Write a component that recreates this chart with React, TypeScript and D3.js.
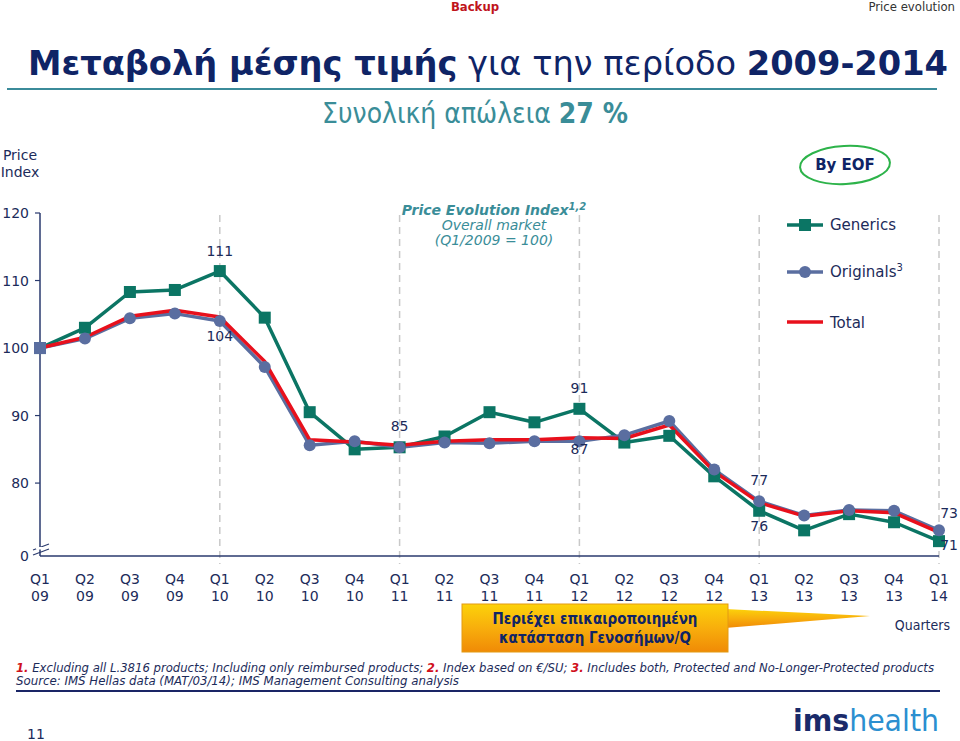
import React, { useRef, useEffect } from 'react';
import * as d3 from 'd3';

const quarters = ["Q1", "Q2", "Q3", "Q4", "Q1", "Q2", "Q3", "Q4", "Q1", "Q2", "Q3", "Q4", "Q1", "Q2", "Q3", "Q4", "Q1", "Q2", "Q3", "Q4", "Q1"];
const years = ["09", "09", "09", "09", "10", "10", "10", "10", "11", "11", "11", "11", "12", "12", "12", "12", "13", "13", "13", "13", "14"];

const generics = [100, 103.0, 108.3, 108.6, 111.4, 104.5, 90.5, 85.0, 85.3, 86.9, 90.5, 89.0, 91.0, 86.0, 87.0, 81.0, 75.9, 73.0, 75.4, 74.2, 71.4];
const originals = [100, 101.4, 104.4, 105.1, 104.0, 97.2, 85.6, 86.2, 85.3, 86.0, 85.9, 86.2, 86.2, 87.1, 89.2, 82.0, 77.3, 75.2, 76.0, 75.9, 73.0];
const total = [100, 101.6, 104.7, 105.6, 104.6, 98.0, 86.4, 86.1, 85.6, 86.2, 86.4, 86.4, 86.7, 86.6, 88.6, 81.7, 77.1, 75.1, 75.9, 75.6, 72.7];

const yTicks = [80, 90, 100, 110, 120];
// value labels: [index, text, dy from the generics point]
const valueLabels: [number, string, number][] = [
  [4, "111", -15], [4, "104", 70], [8, "85", -16], [12, "91", -16], [12, "87", 45],
  [16, "77", -26], [16, "76", 20], [20, "73", -23], [20, "71", 9]
];

const GREEN = "#0b7564";
const BLUE = "#5a6ea0";
const RED = "#e8101c";
const NAVY = "#0f2466";
const TEXT = "#1c2b5a";
const FONT = "'DejaVu Sans', Verdana, sans-serif";
const COND = "'DejaVu Sans Condensed', sans-serif";

export default function App() {
  const svgRef = useRef<SVGSVGElement>(null);

  useEffect(() => {
    const svg = d3.select(svgRef.current);
    svg.selectAll("*").remove();

    const x = d3.scaleLinear().domain([0, quarters.length - 1]).range([40, 939]);
    const y = d3.scaleLinear().domain([69.2, 120]).range([556, 213]);
    const baseY = 556;

    const g = svg.append("g");

    // Q1 dashed guides
    quarters.forEach((q, i) => {
      if (q === "Q1" && i > 0) {
        g.append("line")
          .attr("x1", x(i)).attr("x2", x(i))
          .attr("y1", 215).attr("y2", baseY + 8)
          .attr("stroke", "#c9c9c9").attr("stroke-width", 1.5)
          .attr("stroke-dasharray", "7,5");
      }
    });

    // axes
    g.append("line").attr("x1", 40).attr("x2", 40).attr("y1", y(120)).attr("y2", baseY)
      .attr("stroke", "#2a3a6e").attr("stroke-width", 1.5);
    g.append("line").attr("x1", 40).attr("x2", 939).attr("y1", baseY).attr("y2", baseY)
      .attr("stroke", "#2a3a6e").attr("stroke-width", 1.5);
    yTicks.forEach(t => {
      g.append("line").attr("x1", 35).attr("x2", 40).attr("y1", y(t)).attr("y2", y(t))
        .attr("stroke", "#2a3a6e").attr("stroke-width", 1.2);
      g.append("text").attr("x", 29).attr("y", y(t) + 5).attr("text-anchor", "end")
        .attr("font-size", 14).attr("fill", TEXT).attr("font-family", FONT).text(t);
    });
    g.append("text").attr("x", 29).attr("y", baseY + 5).attr("text-anchor", "end")
      .attr("font-size", 14).attr("fill", TEXT).attr("font-family", FONT).text("0");
    // axis break
    [0, 5].forEach(o => {
      g.append("line").attr("x1", 33).attr("x2", 49).attr("y1", 550 + o).attr("y2", 544 + o)
        .attr("stroke", "#2a3a6e").attr("stroke-width", 1.2);
    });
    g.append("rect").attr("x", 36).attr("y", 547).attr("width", 8).attr("height", 2.5).attr("fill", "white");

    // x labels
    quarters.forEach((q, i) => {
      const t = g.append("text").attr("text-anchor", "middle").attr("font-size", 14)
        .attr("fill", TEXT).attr("font-family", FONT);
      t.append("tspan").attr("x", x(i)).attr("y", 584).text(q);
      t.append("tspan").attr("x", x(i)).attr("y", 601).text(years[i]);
    });

    const line = d3.line<number>().x((_, i) => x(i)).y(d => y(d));

    g.append("path").datum(generics).attr("d", line).attr("fill", "none")
      .attr("stroke", GREEN).attr("stroke-width", 3.5).attr("stroke-linejoin", "round");
    g.append("path").datum(originals).attr("d", line).attr("fill", "none")
      .attr("stroke", BLUE).attr("stroke-width", 3.5).attr("stroke-linejoin", "round");
    g.append("path").datum(total).attr("d", line).attr("fill", "none")
      .attr("stroke", RED).attr("stroke-width", 3.5).attr("stroke-linejoin", "round");

    g.selectAll(".sq").data(generics).join("rect").attr("class", "sq")
      .attr("x", (_, i) => x(i) - 6).attr("y", d => y(d) - 6)
      .attr("width", 12).attr("height", 12).attr("fill", GREEN);
    g.selectAll(".dot").data(originals).join("circle").attr("class", "dot")
      .attr("cx", (_, i) => x(i)).attr("cy", d => y(d)).attr("r", 6).attr("fill", BLUE);
    // first point: blue square on top
    g.append("rect").attr("x", x(0) - 6).attr("y", y(100) - 6).attr("width", 12).attr("height", 12).attr("fill", BLUE);

    valueLabels.forEach(([i, s, dy]) => {
      const isRight = i === 20;
      g.append("text")
        .attr("x", isRight ? x(i) + 19 : x(i))
        .attr("y", y(generics[i]) + dy)
        .attr("text-anchor", isRight ? "end" : "middle")
        .attr("font-size", 14).attr("fill", TEXT).attr("font-family", FONT).text(s);
    });
  }, []);

  return (
    <div style={{ position: "fixed", left: 0, top: 0, width: 960, height: 741, background: "white", overflow: "hidden" }}>
      <svg ref={svgRef} width={960} height={741} style={{ position: "absolute", left: 0, top: 0 }} />
      <svg width={960} height={741} style={{ position: "absolute", left: 0, top: 0 }} fontFamily={FONT}>
        <defs>
          <linearGradient id="callout" x1="0" x2="0" y1="0" y2="1">
            <stop offset="0" stopColor="#fcd20a" />
            <stop offset="0.5" stopColor="#f8ae0c" />
            <stop offset="1" stopColor="#f08a06" />
          </linearGradient>
        </defs>
        <text x={475} y={11} textAnchor="middle" fontSize={13} fontWeight="bold" fill="#c0141c" fontFamily={COND}>Backup</text>
        <text x={955} y={11} textAnchor="end" fontSize={13} fill="#333" fontFamily={COND}>Price evolution</text>

        <text x={28} y={75} fontSize={34} fill={NAVY} fontFamily={COND} textLength={920} lengthAdjust="spacingAndGlyphs">
          <tspan fontWeight="bold">Μεταβολή μέσης τιμής</tspan>
          <tspan> για την περίοδο </tspan>
          <tspan fontWeight="bold">2009-2014</tspan>
        </text>
        <line x1={7} x2={937} y1={89} y2={89} stroke="#3b8b9a" strokeWidth={2} />
        <text x={475} y={123} textAnchor="middle" fontSize={28} fill="#3a8d98" fontFamily={COND}>
          Συνολική απώλεια <tspan fontWeight="bold">27 %</tspan>
        </text>

        <text x={20} y={160} textAnchor="middle" fontSize={14} fill={TEXT}>Price</text>
        <text x={20} y={177} textAnchor="middle" fontSize={14} fill={TEXT}>Index</text>

        <text x={494} y={215} textAnchor="middle" fontSize={14} fill="#3a8d98" fontStyle="italic">
          <tspan fontWeight="bold">Price Evolution Index</tspan>
          <tspan fontSize={10} dy={-5} fontWeight="bold">1,2</tspan>
        </text>
        <text x={494} y={230} textAnchor="middle" fontSize={14} fill="#3a8d98" fontStyle="italic">Overall market</text>
        <text x={494} y={245} textAnchor="middle" fontSize={14} fill="#3a8d98" fontStyle="italic">(Q1/2009 = 100)</text>

        <ellipse cx={845} cy={165} rx={45} ry={19} fill="none" stroke="#2db34a" strokeWidth={2} transform="rotate(-3 845 165)" />
        <text x={845} y={170} textAnchor="middle" fontSize={15} fontWeight="bold" fill={NAVY}>By EOF</text>

        <line x1={787} x2={823} y1={225} y2={225} stroke={GREEN} strokeWidth={3.5} />
        <rect x={799} y={219} width={12} height={12} fill={GREEN} />
        <text x={830} y={230} fontSize={15} fill={TEXT}>Generics</text>
        <line x1={787} x2={823} y1={272} y2={272} stroke={BLUE} strokeWidth={3.5} />
        <circle cx={805} cy={272} r={6} fill={BLUE} />
        <text x={830} y={277} fontSize={15} fill={TEXT}>Originals<tspan fontSize={10} dy={-6}>3</tspan></text>
        <line x1={787} x2={823} y1={322} y2={322} stroke={RED} strokeWidth={3.5} />
        <text x={830} y={328} fontSize={15} fill={TEXT}>Total</text>

        <polygon points="725,609 870,616 725,628" fill="url(#callout)" />
        <rect x={462} y={604} width={266} height={48} fill="url(#callout)" stroke="#e39a12" strokeWidth={1} />
        <text x={595} y={624} textAnchor="middle" fontSize={15} fontWeight="bold" fill={NAVY} fontFamily={COND}>Περιέχει επικαιροποιημένη</text>
        <text x={595} y={643} textAnchor="middle" fontSize={15} fontWeight="bold" fill={NAVY} fontFamily={COND}>κατάσταση Γενοσήμων/Q</text>
        <text x={950} y={630} textAnchor="end" fontSize={14} fill={TEXT} fontFamily={COND}>Quarters</text>

        <text x={16} y={672} fontSize={12} fontStyle="italic" fill={TEXT} fontFamily={COND} textLength={918} lengthAdjust="spacingAndGlyphs">
          <tspan fill="#d0101c" fontWeight="bold">1.</tspan> Excluding all L.3816 products; Including only reimbursed products; <tspan fill="#d0101c" fontWeight="bold">2.</tspan> Index based on €/SU; <tspan fill="#d0101c" fontWeight="bold">3.</tspan> Includes both, Protected and No-Longer-Protected products
        </text>
        <text x={16} y={685} fontSize={12} fontStyle="italic" fill={TEXT} fontFamily={COND} textLength={443} lengthAdjust="spacingAndGlyphs">
          Source: IMS Hellas data (MAT/03/14); IMS Management Consulting analysis
        </text>
        <line x1={16} x2={940} y1={691} y2={691} stroke="#1a2566" strokeWidth={2} />

        <text x={27} y={739} fontSize={14} fill={TEXT}>11</text>
        <text x={793} y={731} fontSize={31} fill="#1a2a6a" fontFamily={COND} textLength={146} lengthAdjust="spacingAndGlyphs">
          <tspan fontWeight="bold">ims</tspan><tspan fill="#2b8fd0">health</tspan>
        </text>
      </svg>
    </div>
  );
}
